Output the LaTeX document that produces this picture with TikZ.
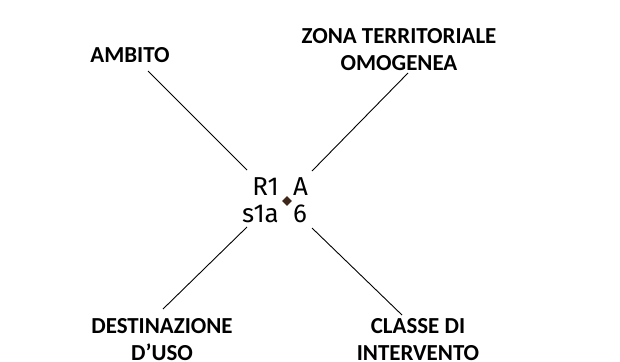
\documentclass[tikz,border=0pt]{standalone}
\usepackage{fontspec}
\setmainfont{Carlito}
\newfontfamily\centerfont{Fira Sans}
\usetikzlibrary{shapes.geometric}
\definecolor{dotbrown}{HTML}{3E2618}
\tikzset{
  lbl/.style={font=\bfseries\fontsize{23}{27}\selectfont, align=center, inner sep=0pt, anchor=north},
  code/.style={font=\centerfont\fontsize{26}{28}\selectfont, inner sep=0pt},
  conn/.style={draw=black, line width=0.9bp},
  dot/.style={diamond, fill=dotbrown, inner sep=0pt, minimum width=10bp, minimum height=10bp}
}
\begin{document}
\begin{tikzpicture}[x=1bp, y=-1bp]
\useasboundingbox (0,0) rectangle (620,361);
% labels
\node[lbl] (amb) at (130,47) {AMBITO};
\node[lbl] (zto) at (399,28) {ZONA TERRITORIALE\\OMOGENEA};
\node[lbl] (dest) at (162,318) {DESTINAZIONE\\D’USO};
\node[lbl] (cls) at (418,318) {CLASSE DI\\INTERVENTO};
% center
\node[dot] (c) at (287,201) {};
\node[code, anchor=base east] (r1) at (279,195) {R1};
\node[code, anchor=base west] (a) at (293,195) {A};
\node[code, anchor=base east] (s1a) at (279,222) {s1a};
\node[code, anchor=base west] (six) at (293,222) {6};
% connector ends
\coordinate (tl1) at (148,71);
\coordinate (tl2) at (247,170);
\coordinate (tr1) at (408,73);
\coordinate (tr2) at (312,171);
\coordinate (bl1) at (247,227);
\coordinate (bl2) at (163,309);
\coordinate (br1) at (312,228);
\coordinate (br2) at (402,315);
\draw[conn] (tl1) -- (tl2);
\draw[conn] (tr1) -- (tr2);
\draw[conn] (bl1) -- (bl2);
\draw[conn] (br1) -- (br2);
\end{tikzpicture}
\end{document}
